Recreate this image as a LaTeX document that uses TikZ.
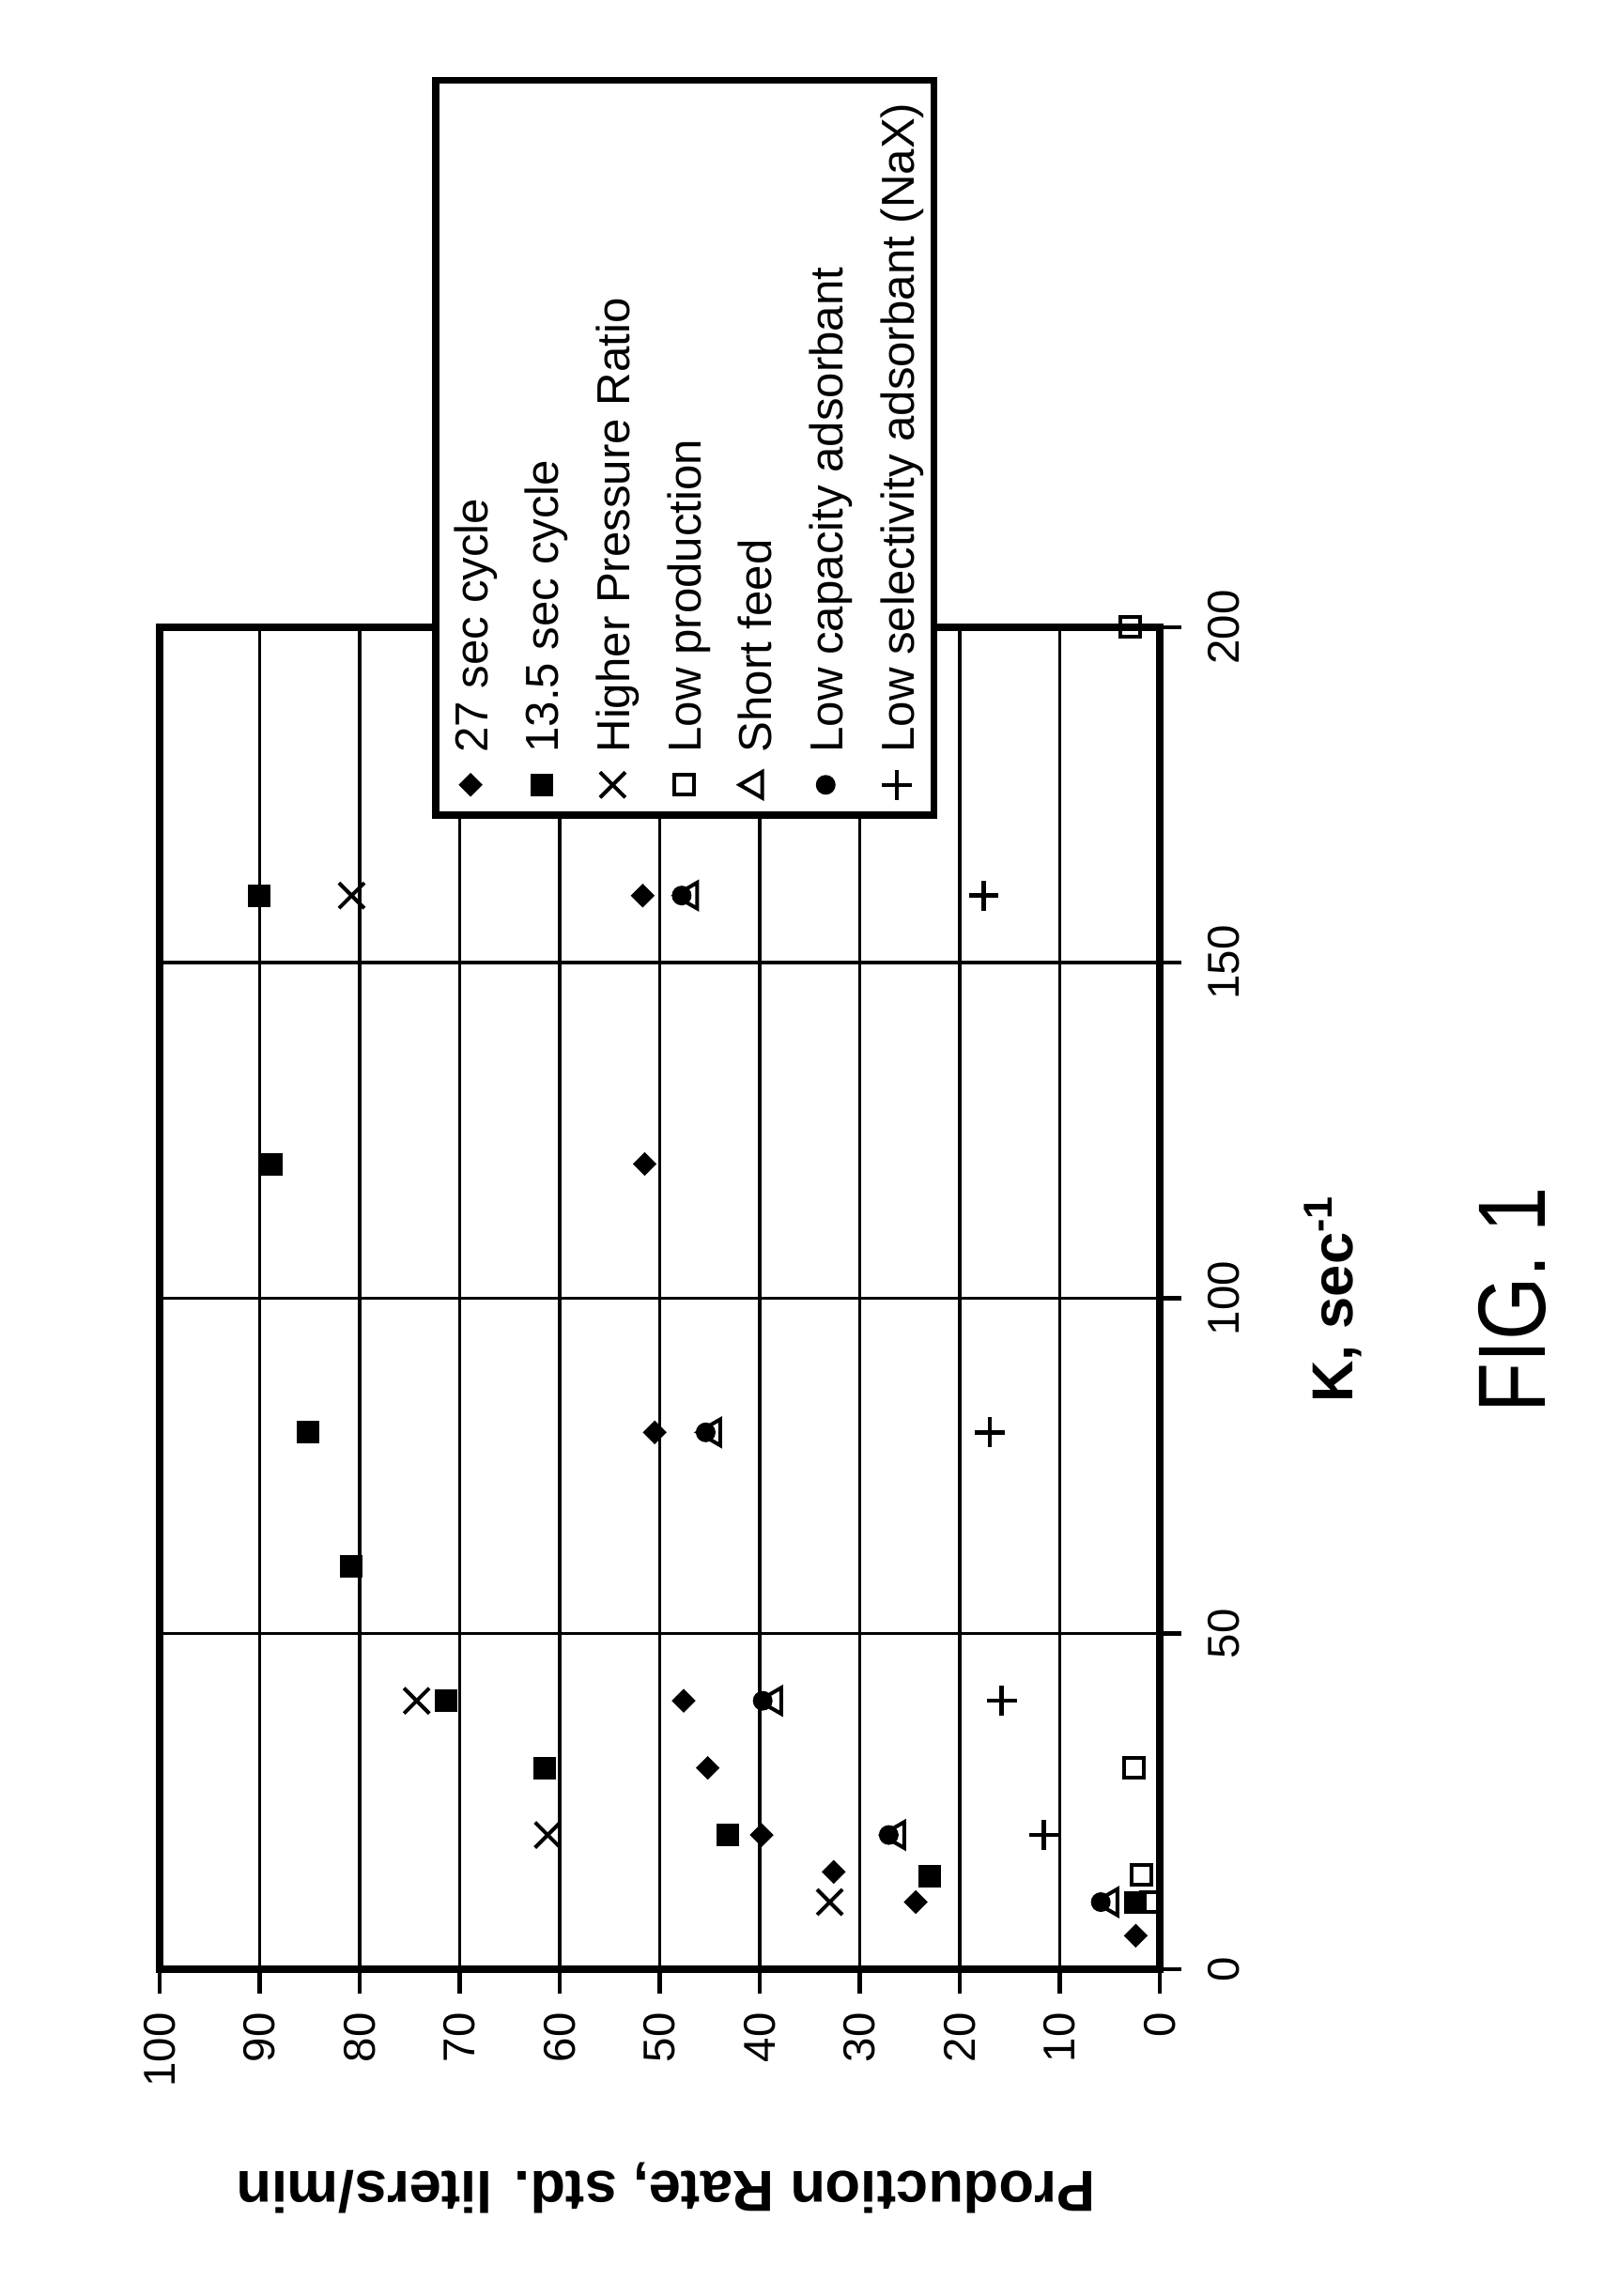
\documentclass[tikz,border=0pt]{standalone}
\usepackage{fontspec}
\setmainfont{Liberation Sans}
\usetikzlibrary{shapes.geometric, shapes.misc}

\tikzset{
  gridln/.style={line width=0.035cm},
  axisln/.style={line width=0.075cm},
  tickln/.style={line width=0.045cm},
  ptdiam/.style={diamond, fill, inner sep=0, minimum size=0.26cm},
  ptsq/.style={rectangle, fill, inner sep=0, minimum size=0.24cm},
  ptx/.style={cross out, draw, line width=0.04cm, inner sep=0, minimum size=0.23cm},
  ptopen/.style={rectangle, draw, line width=0.04cm, inner sep=0, minimum size=0.21cm},
  pttri/.style={regular polygon, regular polygon sides=3, draw, line width=0.04cm, inner sep=0, minimum size=0.32cm},
  ptdot/.style={circle, fill, inner sep=0, minimum size=0.21cm},
  ptplus/.style={cross out, draw, rotate=45, line width=0.045cm, inner sep=0, minimum size=0.18cm},
  lgdtext/.style={anchor=base west, inner sep=0, font=\fontsize{14}{16}\selectfont},
  ticklbl/.style={inner sep=0, font=\fontsize{13.5}{15}\selectfont},
  axttl/.style={inner sep=0, font=\bfseries\fontsize{17.5}{20}\selectfont}
}

\begin{document}
\begin{tikzpicture}
\useasboundingbox (0,0) rectangle (17.24,24.45);

% chart drawn upright, then turned a quarter turn
\begin{scope}[shift={(12.35,3.48)}, rotate=90, transform shape, x=0.07145cm, y=0.1065cm]

% grid
\foreach \p in {10,20,...,90} \draw[gridln] (0,\p) -- (200,\p);
\foreach \k in {50,100,150} \draw[gridln] (\k,0) -- (\k,100);
\draw[axisln] (0,0) rectangle (200,100);

% K axis
\foreach \k in {0,50,...,200} {
  \draw[tickln] (\k,0) -- (\k,-2.2);
  \node[ticklbl, anchor=north] (kt\k) at (\k,-4.8) {\k};
}
% rate axis
\foreach \p in {0,10,...,100} {
  \draw[tickln] (0,\p) -- (-3.6,\p);
  \node[ticklbl, anchor=east] (pt\p) at (-6.4,\p) {\p};
}

\node[axttl, anchor=base] (ktitle) at (99.9,-19.3) {K, sec\textsuperscript{-1}};
\node[axttl, rotate=90] (ptitle) at (-32.6,49.4) {Production Rate, std. liters/min};
\node[inner sep=0, anchor=base, xscale=0.85, font=\fontsize{29}{32}\selectfont] (fig) at (99.7,-38.5) {FIG. 1};

% data
\foreach \k/\p [count=\i] in {5/2.4, 10/24.4, 14.5/32.6, 20/39.8, 30/45.2, 40/47.6, 80/50.5, 120/51.5, 160/51.7}
  \node[ptdiam] (dia\i) at (\k,\p) {};
\foreach \k/\p [count=\i] in {10/2.4, 13.8/23, 20/43.2, 30/61.5, 40/71.4, 60/80.8, 80/85.2, 120/88.8, 160/90}
  \node[ptsq] (sq\i) at (\k,\p) {};
\foreach \k/\p [count=\i] in {10/33, 20/61.2, 40/74.3, 160/80.8}
  \node[ptx] (hpr\i) at (\k,\p) {};
\foreach \k/\p [count=\i] in {10/0.9, 14/1.8, 30/2.6, 200/3}
  \node[ptopen] (lowp\i) at (\k,\p) {};
\foreach \k/\p [count=\i] in {10/5.9, 20/27.1, 40/39.7, 80/45.4, 160/47.8}
  \node[ptdot] (lowc\i) at (\k,\p) {};
\foreach \k/\p [count=\i] in {10/5.0, 20/26.3, 40/38.6, 80/44.7, 160/47.0}
  \node[pttri] (shf\i) at (\k,\p) {};
\foreach \k/\p [count=\i] in {20/11.6, 40/15.8, 80/17, 160/17.6}
  \node[ptplus] (nax\i) at (\k,\p) {};

% legend
\draw[axisln, fill=white] (172,22.6) rectangle (281.5,72.4);
\foreach \sty/\txt [count=\i] in {ptdiam/27 sec cycle, ptsq/13.5 sec cycle, ptx/Higher Pressure Ratio, ptopen/Low production, pttri/Short feed, ptdot/Low capacity adsorbant, ptplus/Low selectivity adsorbant (NaX)} {
  \node[\sty] (lgsym\i) at (176.5,{68.9-7.1*(\i-1)}) {};
  \node[lgdtext] (lgtxt\i) at (181.2,{68.9-7.1*(\i-1)-1.7}) {\txt};
}
\end{scope}
\end{tikzpicture}
\end{document}
